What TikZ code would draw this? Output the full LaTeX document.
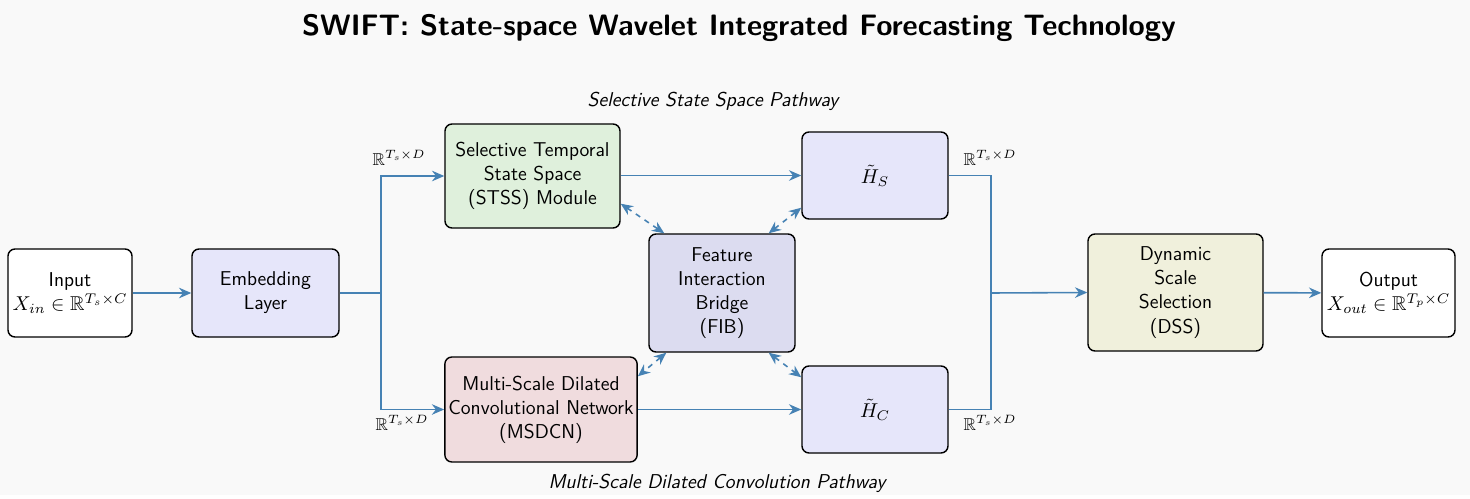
\RequirePackage{fix-cm}
\documentclass[tikz,border=0pt]{standalone}
\usepackage{amssymb}
\usetikzlibrary{arrows.meta}
\definecolor{bgcol}{HTML}{F9F9F9}
\definecolor{flowcol}{HTML}{4682B4}
\definecolor{stsscol}{HTML}{DFF0DC}
\definecolor{msdcncol}{HTML}{F0DCDE}
\definecolor{lavcol}{HTML}{E6E6FA}
\definecolor{fibcol}{HTML}{DCDCF0}
\definecolor{dsscol}{HTML}{F0F0DC}
\newcommand{\blockfont}{\sffamily\fontsize{11.4}{13.7}\selectfont}
\begin{document}
\begin{tikzpicture}[scale=1,
        block/.style={draw, thick, rounded corners=4pt, align=center, font=\blockfont, inner sep=2pt},
        wire/.style={draw=flowcol, line width=0.9pt},
        flow/.style={wire, -{Stealth[length=7pt,width=6pt]}},
        link/.style={wire, dashed, {Stealth[length=7pt,width=6pt]}-{Stealth[length=7pt,width=6pt]}},
        dimlabel/.style={font=\fontsize{9.8}{11}\selectfont}]
        \fill[bgcol] (0,0) rectangle (29.4,9.9);
        \node[font=\bfseries\sffamily\fontsize{16.8}{20}\selectfont] (title) at (14.78,9.34) {SWIFT: State-space Wavelet Integrated Forecasting Technology};
        \node[block, fill=white, minimum width=2.48cm, minimum height=1.76cm] (input) at (1.4,4.04) {Input\\$X_{in} \in \mathbb{R}^{T_s \times C}$};
        \node[block, fill=lavcol, minimum width=2.94cm, minimum height=1.76cm] (embed) at (5.31,4.04) {Embedding\\Layer};
        \node[block, fill=stsscol, minimum width=3.5cm, minimum height=2.08cm] (stss) at (10.65,6.38) {Selective Temporal\\State Space\\(STSS) Module};
        \node[block, fill=msdcncol, minimum width=3.84cm, minimum height=2.1cm] (msdcn) at (10.82,1.71) {Multi-Scale Dilated\\Convolutional Network\\(MSDCN)};
        \node[block, fill=fibcol, minimum width=2.92cm, minimum height=2.36cm] (fib) at (14.44,4.04) {Feature\\Interaction\\Bridge\\(FIB)};
        \node[block, fill=lavcol, minimum width=2.92cm, minimum height=1.74cm] (hs) at (17.5,6.39) {$\tilde{H}_S$};
        \node[block, fill=lavcol, minimum width=2.92cm, minimum height=1.74cm] (hc) at (17.5,1.71) {$\tilde{H}_C$};
        \node[block, fill=dsscol, minimum width=3.5cm, minimum height=2.34cm] (dss) at (23.51,4.05) {Dynamic\\Scale\\Selection\\(DSS)};
        \node[block, fill=white, minimum width=2.66cm, minimum height=1.76cm] (output) at (27.77,4.04) {Output\\$X_{out} \in \mathbb{R}^{T_p \times C}$};
        \coordinate (split) at (7.62,4.04);
        \coordinate (merge) at (19.82,4.04);
        \draw[flow] (input) -- (embed);
        \draw[wire] (embed.east) -- (split);
        \draw[flow] (split) |- (stss.west);
        \draw[flow] (split) |- (msdcn.west);
        \draw[flow] (stss.east |- hs.west) -- (hs.west);
        \draw[flow] (msdcn.east |- hc.west) -- (hc.west);
        \draw[wire] (hs.east) -| (merge);
        \draw[wire] (hc.east) -| (merge);
        \draw[flow] (merge) -- (dss.west);
        \draw[flow] (dss) -- (output);
        \draw[link] ([yshift=0.5cm]stss.south east) -- ([xshift=0.32cm]fib.north west);
        \draw[link] ([yshift=0.24cm]hs.south west) -- ([xshift=-0.54cm]fib.north east);
        \draw[link] ([xshift=0.36cm]fib.south west) -- ([yshift=-0.4cm]msdcn.north east);
        \draw[link] ([xshift=-0.54cm]fib.south east) -- ([yshift=-0.24cm]hc.north west);
        \node[dimlabel] (dimsa) at (7.98,6.74) {$\mathbb{R}^{T_s \times D}$};
        \node[dimlabel] (dimsb) at (8.04,1.44) {$\mathbb{R}^{T_s \times D}$};
        \node[dimlabel] (dimha) at (19.8,6.74) {$\mathbb{R}^{T_s \times D}$};
        \node[dimlabel] (dimhb) at (19.8,1.44) {$\mathbb{R}^{T_s \times D}$};
        \node[font=\blockfont\itshape] (paths) at (14.26,7.88) {Selective State Space Pathway};
        \node[font=\blockfont\itshape] (pathc) at (14.34,0.24) {Multi-Scale Dilated Convolution Pathway};
    \end{tikzpicture}
\end{document}
